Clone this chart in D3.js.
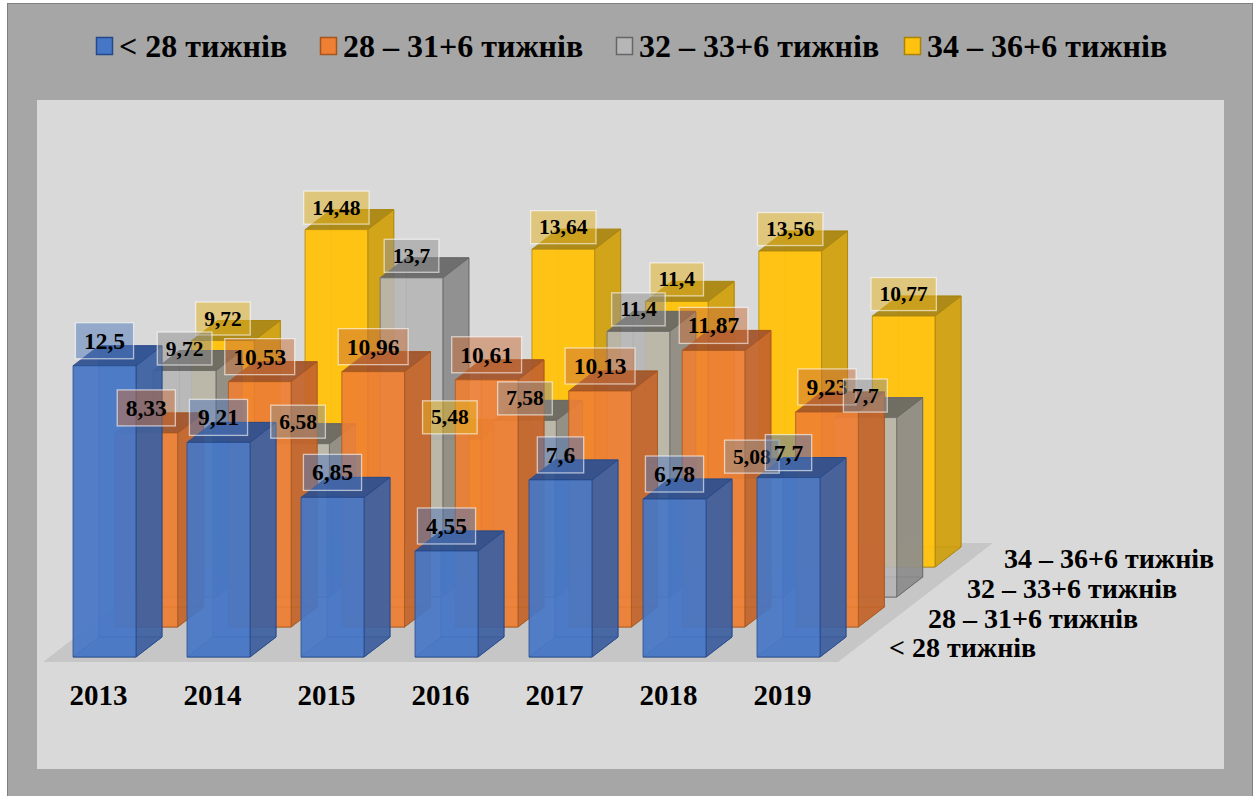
<!DOCTYPE html>
<html lang="uk">
<head>
<meta charset="utf-8">
<script src="https://cdn.jsdelivr.net/npm/d3@7"></script>
<style>
html,body{margin:0;padding:0;background:#fff;overflow:hidden}
svg{display:block}
text{font-family:"Liberation Serif","Times New Roman",serif;font-weight:bold;fill:#000}
</style>
</head>
<body>
<svg id="chart" width="1258" height="796"></svg>
<script>
const years = ["2013","2014","2015","2016","2017","2018","2019"];
const seriesNames = ["< 28 тижнів","28 – 31+6 тижнів","32 – 33+6 тижнів","34 – 36+6 тижнів"];
const under28 = [12.5,9.21,6.85,4.55,7.6,6.78,7.7];
const w28to31 = [8.33,10.53,10.96,10.61,10.13,11.87,9.23];
const w32to33 = [9.72,6.58,13.7,7.58,11.4,5.08,7.7];
const w34to36 = [9.72,14.48,5.48,13.64,11.4,13.56,10.77];
const seriesValues = [under28,w28to31,w32to33,w34to36];
const faceColors = [
  {front:"#4676c6",side:"#3d5f9e",top:"#2c4f8f",edge:"#24488a",tint:"#4f78bb",op:0.92},
  {front:"#ee7f33",side:"#c2652b",top:"#a2542a",edge:"#a5561f",tint:"#c9703a",op:0.9},
  {front:"#b6b6b6",side:"#8c8c8c",top:"#666666",edge:"#666666",tint:"#8f8f8f",op:0.88},
  {front:"#ffc30f",side:"#cfa010",top:"#a98610",edge:"#a98308",tint:"#e6b422",op:0.96}
];
const legendX = [96,320,616,904];
const seriesLabelX = [889,928,967,1004];
const seriesLabelY = [657,628,598,568];

const svg = d3.select("#chart");
const defs = svg.append("defs");
defs.append("filter").attr("id","soft").attr("x","-5%").attr("y","-5%").attr("width","110%").attr("height","110%")
  .append("feGaussianBlur").attr("stdDeviation",0.6);

// frame
svg.append("rect").attr("x",7.5).attr("y",3.5).attr("width",1245).attr("height",800)
  .attr("fill","#a6a6a6").attr("stroke","#7f7f7f");
svg.append("rect").attr("x",37).attr("y",100).attr("width",1187).attr("height",669).attr("fill","#d9d9d9");

// scales
const x = d3.scaleBand().domain(years).range([73,820]).paddingInner(51/114).paddingOuter(0);
const depthX = d3.scalePoint().domain(seriesNames).range([0,115]);
const depthY = d3.scalePoint().domain(seriesNames).range([0,90]);
// rear rows are very slightly narrower (perspective of the original 3-D view)
const rowX = seriesNames.map((n,si)=>{
  const shift = si === 0 ? 0 : 3.6;
  return d3.scaleBand().domain(years)
    .range([73+depthX(n)+shift, 820+depthX(n)]).paddingInner(51/114).paddingOuter(0);
});
const baseY = 657;
const h = d3.scaleLinear().domain([0,15]).range([0,349.5]);
const ddx = 26, ddy = 20;
const line = d3.line();

// floor
const floorPts = [[43,662],[838,662],[993,543],[198,543]];
const plot = svg.append("g").attr("filter","url(#soft)");
plot.append("path").attr("d",line(floorPts)+"Z").attr("fill","#c6c6c6");

function boxFaces(si, yi){
  const n = seriesNames[si], sx = rowX[si], w = sx.bandwidth();
  const x0 = sx(years[yi]), y0 = baseY - depthY(n);
  const t = y0 - h(seriesValues[si][yi]);
  const c = faceColors[si];
  const x1 = x0 + w;
  return [
    {pts:[[x0+ddx,y0-ddy],[x1+ddx,y0-ddy],[x1+ddx,t-ddy],[x0+ddx,t-ddy]],fill:c.front,op:0.35},
    {pts:[[x0,y0],[x1,y0],[x1+ddx,y0-ddy],[x0+ddx,y0-ddy]],fill:c.side,op:0.35},
    {pts:[[x1,y0],[x1+ddx,y0-ddy],[x1+ddx,t-ddy],[x1,t]],fill:c.side,op:0.9},
    {pts:[[x0,t],[x1,t],[x1+ddx,t-ddy],[x0+ddx,t-ddy]],fill:c.top,op:0.92},
    {pts:[[x0,y0],[x1,y0],[x1,t],[x0,t]],fill:c.front,op:c.op}
  ].map(f=>({...f,edge:c.edge}));
}

// bars from back row to front row
d3.range(seriesNames.length-1,-1,-1).forEach(si=>{
  const row = plot.append("g").attr("class","series");
  row.selectAll("g").data(years.map((_,i)=>i)).join("g")
    .each(function(yi){
      d3.select(this).selectAll("path").data(boxFaces(si,yi)).join("path")
        .attr("d",d=>line(d.pts)+"Z")
        .attr("fill",d=>d.fill)
        .attr("fill-opacity",d=>d.op)
        .attr("stroke",d=>d.edge)
        .attr("stroke-opacity",0.75)
        .attr("stroke-width",1);
    });
});

// value labels
const labelOrder = [3,1,2,0];
const labelFont = [23.5,23.5,21.5,21.5];
const labelLift = [25,25,22,22];
const labels = svg.append("g");
labelOrder.forEach(si=>{
  const n = seriesNames[si], sx = rowX[si];
  seriesValues[si].forEach((v,yi)=>{
    const cx = sx(years[yi]) + sx.bandwidth()/2;
    const cy = baseY - depthY(n) - h(v) - labelLift[si];
    const g = labels.append("g");
    const rect = g.append("rect");
    const t = g.append("text").attr("x",cx).attr("y",cy)
      .attr("text-anchor","middle").attr("dominant-baseline","central")
      .attr("font-size",labelFont[si]).text(String(v).replace(".",","));
    const tw = t.node().getComputedTextLength();
    const bh = si<2 ? 36 : 33;
    rect.attr("x",cx-tw/2-8.5).attr("y",cy-bh/2).attr("width",tw+17).attr("height",bh)
      .attr("fill",faceColors[si].tint).attr("fill-opacity",0.5)
      .attr("stroke","#fff").attr("stroke-opacity",0.6).attr("stroke-width",1.3);
  });
});

// year labels
svg.append("g").selectAll("text").data(years).join("text")
  .attr("x",d=>x(d)+x.bandwidth()/2-6).attr("y",705)
  .attr("text-anchor","middle").attr("font-size",29).text(d=>d);

// depth axis labels
svg.append("g").selectAll("text").data(seriesNames).join("text")
  .attr("x",(d,i)=>seriesLabelX[i]).attr("y",(d,i)=>seriesLabelY[i])
  .attr("font-size",28).text(d=>d);

// legend
const leg = svg.append("g").selectAll("g").data(seriesNames).join("g")
  .attr("transform",(d,i)=>`translate(${legendX[i]},0)`);
leg.append("rect").attr("x",0.5).attr("y",37.5).attr("width",16).attr("height",17)
  .attr("fill",(d,i)=>faceColors[i].front)
  .attr("stroke",(d,i)=>faceColors[i].edge).attr("stroke-width",1.5);
leg.append("text").attr("x",23).attr("y",57).attr("font-size",32).text(d=>d);
</script>
</body>
</html>
